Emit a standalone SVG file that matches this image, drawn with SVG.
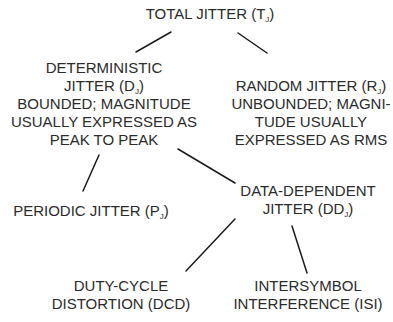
<svg xmlns="http://www.w3.org/2000/svg" width="393" height="322" viewBox="0 0 393 322">
<style>
text{font-family:"Liberation Sans",Arial,sans-serif;font-size:15px;fill:#2b2b2b;text-anchor:middle}
.s{font-size:8px}
.c line{stroke:#1a1a1a;stroke-width:1.5;stroke-linecap:round}
</style>
<rect width="393" height="322" fill="#fff"/>
<g class="c" id="connectors">
<line x1="171" y1="32" x2="136" y2="52"/>
<line x1="238" y1="33" x2="267" y2="53"/>
<line x1="99" y1="155" x2="83" y2="191"/>
<line x1="178" y1="149" x2="235" y2="183"/>
<line x1="235" y1="219" x2="186" y2="271"/>
<line x1="292" y1="226" x2="307" y2="273"/>
</g>
<g id="total"><text x="210" y="19">TOTAL JITTER (T<tspan class="s" dy="3">J</tspan><tspan dy="-3">)</tspan></text></g>
<g id="deterministic">
<text x="104" y="73">DETERMINISTIC</text>
<text x="104" y="91">JITTER (D<tspan class="s" dy="3">J</tspan><tspan dy="-3">)</tspan></text>
<text x="104" y="109">BOUNDED; MAGNITUDE</text>
<text x="104" y="127">USUALLY EXPRESSED AS</text>
<text x="104" y="145">PEAK TO PEAK</text>
</g>
<g id="random">
<text x="311" y="91">RANDOM JITTER (R<tspan class="s" dy="3">J</tspan><tspan dy="-3">)</tspan></text>
<text x="311" y="109">UNBOUNDED; MAGNI-</text>
<text x="311" y="127">TUDE USUALLY</text>
<text x="311" y="145">EXPRESSED AS RMS</text>
</g>
<g id="periodic"><text x="91" y="216">PERIODIC JITTER (P<tspan class="s" dy="3">J</tspan><tspan dy="-3">)</tspan></text></g>
<g id="datadependent">
<text x="308" y="196">DATA-DEPENDENT</text>
<text x="308" y="214">JITTER (DD<tspan class="s" dy="3">J</tspan><tspan dy="-3">)</tspan></text>
</g>
<g id="dcd">
<text x="121" y="291">DUTY-CYCLE</text>
<text x="121" y="309">DISTORTION (DCD)</text>
</g>
<g id="isi">
<text x="308" y="291">INTERSYMBOL</text>
<text x="308" y="309">INTERFERENCE (ISI)</text>
</g>
</svg>
